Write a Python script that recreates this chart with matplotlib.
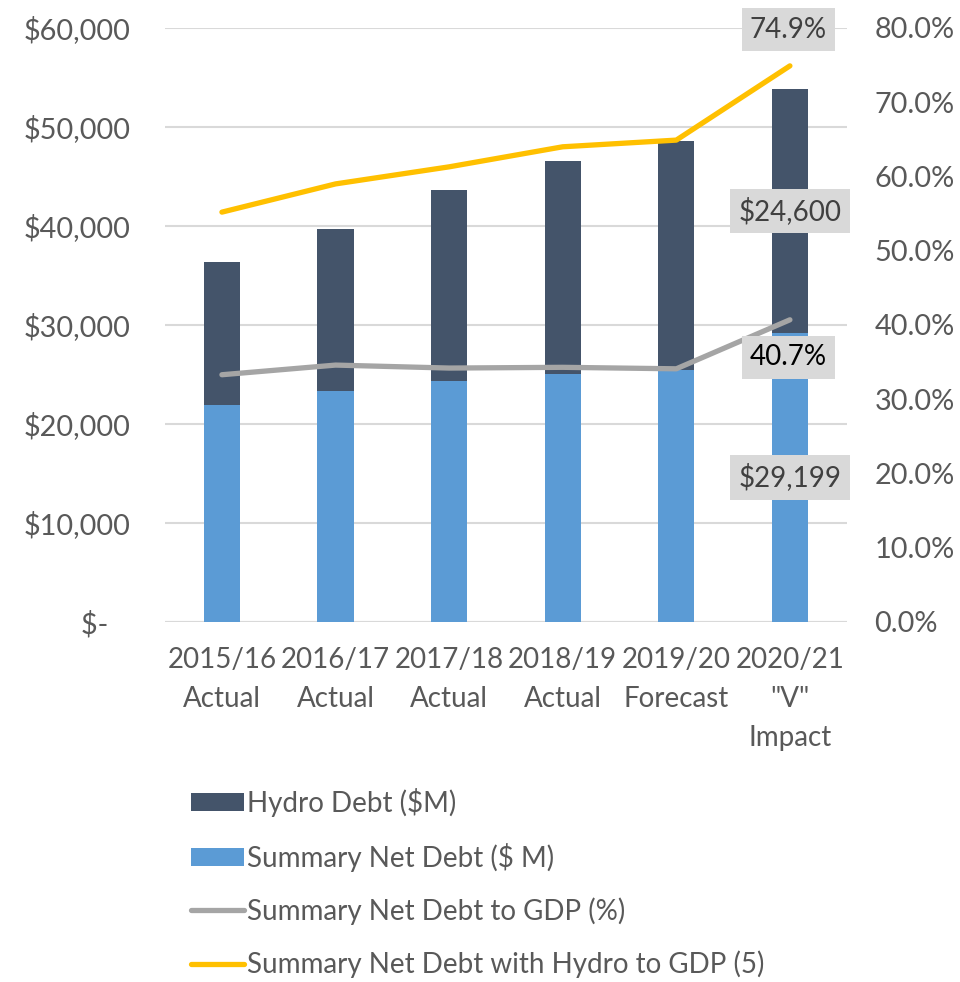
# net debt chart - stacked bars + two ratio lines on a second axis
import matplotlib
matplotlib.use("Agg")
from matplotlib import pyplot as plt
from matplotlib.ticker import FuncFormatter

plt.rcParams['font.family'] = ['Lato', 'DejaVu Sans']

years = ['2015/16\nActual', '2016/17\nActual', '2017/18\nActual', '2018/19\nActual',
         '2019/20\nForecast', '2020/21\n"V"\nImpact']
summary_debt = [21900, 23300, 24300, 25000, 25500, 29199]
hydro_debt = [14460, 16400, 19300, 21560, 23100, 24600]
debt_to_gdp = [33.3, 34.6, 34.2, 34.3, 34.1, 40.7]
debt_hydro_to_gdp = [55.2, 59.0, 61.3, 64.0, 64.9, 74.9]

txt = '#595959'
fs = 20

fig = plt.figure(figsize=(9.6, 9.82), dpi=100)
ax = fig.add_axes([0.172, 0.3666, 0.71, 0.6049])
ax2 = ax.twinx()

x = range(len(years))
b1 = ax.bar(x, summary_debt, width=0.32, color='#5B9BD5', label='Summary Net Debt ($ M)', zorder=2)
b2 = ax.bar(x, hydro_debt, width=0.32, bottom=summary_debt, color='#44546A', label='Hydro Debt ($M)', zorder=2)
l1, = ax2.plot(x, debt_to_gdp, color='#A5A5A5', lw=3.8, solid_capstyle='round', label='Summary Net Debt to GDP (%)')
l2, = ax2.plot(x, debt_hydro_to_gdp, color='#FFC000', lw=3.8, solid_capstyle='round',
               label='Summary Net Debt with Hydro to GDP (5)')

ax.set_xlim(-0.5, 5.5)
ax.set_ylim(0, 60000)
ax2.set_ylim(0, 80)
ax.set_yticks(range(0, 60001, 10000))
ax2.set_yticks(range(0, 81, 10))
ax.yaxis.set_major_formatter(FuncFormatter(lambda v, p: '$-   ' if v == 0 else '${:,.0f}'.format(v)))
ax2.yaxis.set_major_formatter(FuncFormatter(lambda v, p: '{:.1f}%'.format(v)))
ax.set_xticks(list(x))
ax.set_xticklabels(years, linespacing=1.62)

ax.grid(axis='y', color='#D9D9D9', lw=1.5, zorder=0)
ax.set_axisbelow(True)
for a in (ax, ax2):
    for s in a.spines.values():
        s.set_visible(False)
    a.tick_params(length=0, labelsize=fs, labelcolor=txt)
ax.tick_params(axis='y', pad=25, labelsize=20.8)
ax2.tick_params(axis='y', pad=20, labelsize=20.8)
ax.tick_params(axis='x', pad=18)
ax.axhline(0, color='#D9D9D9', lw=1.5, zorder=1)

box = dict(boxstyle='square,pad=0.3', fc='#D9D9D9', ec='none')
ax.text(5, summary_debt[5] / 2, '${:,}'.format(summary_debt[5]), ha='center', va='center',
        fontsize=fs, color='#404040', bbox=box, zorder=5)
ax.text(5, summary_debt[5] + hydro_debt[5] / 2, '${:,}'.format(hydro_debt[5]), ha='center', va='center',
        fontsize=fs, color='#404040', bbox=box, zorder=5)
ax2.annotate('{:.1f}%'.format(debt_to_gdp[5]), (5, debt_to_gdp[5]), xytext=(-1, -27),
             textcoords='offset points', ha='center', va='center', fontsize=fs, color='black', bbox=box)
ax2.annotate('{:.1f}%'.format(debt_hydro_to_gdp[5]), (5, debt_hydro_to_gdp[5]), xytext=(-1, 26),
             textcoords='offset points', ha='center', va='center', fontsize=fs, color='#404040', bbox=box)

fig.legend([b2, b1, l1, l2], [h.get_label() for h in (b2, b1, l1, l2)],
           loc='upper left', bbox_to_anchor=(0.185, 0.212), frameon=False, fontsize=fs,
           labelcolor=txt, handlelength=1.9, handleheight=0.65, handletextpad=0.1, labelspacing=0.93,
           borderpad=0)

fig.savefig('out.png', dpi=100)
